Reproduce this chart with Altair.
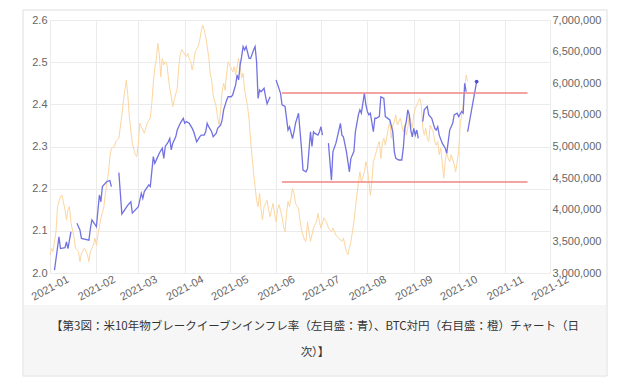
import altair as alt
import pandas as pd

# ---- Breakeven inflation (left axis); None marks a break in the line ----
blue_dates = [
    "2021-01-04", "2021-01-07", "2021-01-08", "2021-01-11", "2021-01-12", "2021-01-13", "2021-01-15",
    "2021-01-18",
    "2021-01-19", "2021-01-21", "2021-01-22", "2021-01-27", "2021-01-28", "2021-01-29", "2021-02-01",
    "2021-02-03", "2021-02-04", "2021-02-05", "2021-02-08", "2021-02-10", "2021-02-11",
    "2021-02-15",
    "2021-02-16", "2021-02-18", "2021-02-22", "2021-02-24", "2021-02-25", "2021-03-01", "2021-03-03",
    "2021-03-04", "2021-03-05", "2021-03-08", "2021-03-09", "2021-03-11", "2021-03-12", "2021-03-14",
    "2021-03-15", "2021-03-17", "2021-03-18", "2021-03-19", "2021-03-21", "2021-03-22", "2021-03-23",
    "2021-03-24", "2021-03-26", "2021-03-27", "2021-03-29", "2021-03-31", "2021-04-01", "2021-04-02",
    "2021-04-04", "2021-04-06", "2021-04-07", "2021-04-08", "2021-04-09", "2021-04-11", "2021-04-12",
    "2021-04-14", "2021-04-15", "2021-04-16", "2021-04-17", "2021-04-19", "2021-04-20", "2021-04-22",
    "2021-04-23", "2021-04-25", "2021-04-26", "2021-04-27", "2021-04-29", "2021-04-30", "2021-05-02",
    "2021-05-03", "2021-05-05", "2021-05-06", "2021-05-07", "2021-05-08", "2021-05-09", "2021-05-10",
    "2021-05-11", "2021-05-12", "2021-05-14", "2021-05-15", "2021-05-17", "2021-05-18", "2021-05-19",
    "2021-05-20", "2021-05-21", "2021-05-22", "2021-05-24", "2021-05-25", "2021-05-26", "2021-05-28",
    "2021-05-31",
    "2021-06-01", "2021-06-04", "2021-06-05", "2021-06-07", "2021-06-09", "2021-06-10", "2021-06-12",
    "2021-06-13", "2021-06-14", "2021-06-16", "2021-06-18", "2021-06-19", "2021-06-21", "2021-06-22",
    "2021-06-24", "2021-06-25", "2021-06-26", "2021-06-27", "2021-06-29", "2021-06-30", "2021-07-01",
    "2021-07-02",
    "2021-07-05",
    "2021-07-06", "2021-07-08", "2021-07-09", "2021-07-11", "2021-07-13", "2021-07-14", "2021-07-15",
    "2021-07-16", "2021-07-18", "2021-07-20", "2021-07-21", "2021-07-23", "2021-07-24", "2021-07-26",
    "2021-07-27", "2021-07-28", "2021-07-29", "2021-07-30", "2021-07-31", "2021-08-01", "2021-08-02",
    "2021-08-03", "2021-08-05", "2021-08-06", "2021-08-07", "2021-08-09", "2021-08-10", "2021-08-12",
    "2021-08-13", "2021-08-16", "2021-08-18", "2021-08-19", "2021-08-20", "2021-08-22", "2021-08-24",
    "2021-08-25", "2021-08-26", "2021-08-27", "2021-08-28", "2021-08-29", "2021-08-30", "2021-08-31",
    "2021-09-01", "2021-09-02", "2021-09-03", "2021-09-04",
    "2021-09-06",
    "2021-09-07", "2021-09-08", "2021-09-10", "2021-09-11", "2021-09-13", "2021-09-15", "2021-09-16",
    "2021-09-17", "2021-09-18", "2021-09-20", "2021-09-22", "2021-09-23", "2021-09-24", "2021-09-25",
    "2021-09-27", "2021-09-28", "2021-09-30", "2021-10-01", "2021-10-03", "2021-10-04", "2021-10-05",
    "2021-10-06",
    "2021-10-07",
    "2021-10-07", "2021-10-13",
]
blue_vals = [
    2.007, 2.086, 2.058, 2.060, 2.074, 2.058, 2.098,
    None,
    2.118, 2.102, 2.082, 2.078, 2.106, 2.126, 2.110,
    2.185, 2.169, 2.205, 2.217, 2.219, 2.205,
    None,
    2.238, 2.140, 2.161, 2.169, 2.142, 2.157, 2.189,
    2.177, 2.193, 2.209, 2.205, 2.276, 2.260, 2.276,
    2.284, 2.296, 2.272, 2.300, 2.311, 2.319, 2.292,
    2.308, 2.323, 2.339, 2.355, 2.367, 2.355, 2.359,
    2.355, 2.343, 2.335, 2.323, 2.311, 2.323, 2.327,
    2.327, 2.335, 2.355, 2.347, 2.335, 2.323, 2.331,
    2.343, 2.351, 2.363, 2.387, 2.410, 2.418, 2.418,
    2.422, 2.446, 2.470, 2.458, 2.493, 2.513, 2.537,
    2.529, 2.537, 2.509, 2.509, 2.529, 2.537, 2.501,
    2.414, 2.434, 2.430, 2.438, 2.418, 2.401, 2.418,
    None,
    2.458, 2.426, 2.399, 2.395, 2.339, 2.347, 2.319,
    2.335, 2.355, 2.379, 2.296, 2.244, 2.240, 2.247,
    2.335, 2.300, 2.335, 2.331, 2.327, 2.335, 2.347,
    2.327,
    None,
    2.308, 2.220, 2.288, 2.308, 2.339, 2.355, 2.327,
    2.323, 2.288, 2.240, 2.272, 2.288, 2.335, 2.375,
    2.387, 2.379, 2.403, 2.426, 2.399, 2.383, 2.375,
    2.379, 2.335, 2.367, 2.367, 2.371, 2.418, 2.414,
    2.371, 2.363, 2.335, 2.288, 2.272, 2.268, 2.268,
    2.296, 2.343, 2.359, 2.387, 2.375, 2.339, 2.323,
    2.343, 2.327, 2.339, 2.319,
    None,
    2.359, 2.387, 2.395, 2.375, 2.367, 2.343, 2.339,
    2.347, 2.327, 2.308, 2.296, 2.284, 2.311, 2.339,
    2.355, 2.375, 2.379, 2.371, 2.383, 2.379, 2.450,
    2.430,
    None,
    2.335, 2.454,
]

# ---- BTC/JPY (right axis): days since 2021-01-01, price in yen ----
btc_days = [
    0, 1, 2, 4, 5, 7, 8, 10, 11, 12, 13, 14, 16, 17, 19, 20, 21, 23, 25, 26, 27, 29, 30, 31, 32, 33, 34,
    36, 37, 38, 39, 40, 41, 43, 44, 46, 47, 48, 49, 50, 51, 52, 53, 54, 55, 56, 57, 58, 59, 60, 61, 63,
    65, 67, 68, 69, 70, 71, 72, 73, 74, 75, 76, 77, 78, 79, 80, 81, 82, 83, 85, 86, 87, 88, 89, 91, 92,
    93, 94, 95, 96, 97, 99, 100, 101, 102, 103, 104, 105, 106, 107, 108, 109, 111, 112, 113, 114, 115,
    116, 117, 118, 119, 120, 122, 123, 124, 125, 126, 127, 128, 129, 130, 132, 133, 134, 135, 136, 137,
    138, 139, 140, 141, 142, 143, 145, 146, 147, 148, 149, 150, 151, 152, 153, 155, 156, 157, 158, 159,
    160, 161, 162, 163, 164, 166, 167, 168, 169, 170, 171, 172, 173, 174, 176, 178, 179, 180, 181, 183,
    185, 186, 188, 189, 191, 192, 194, 195, 196, 197, 198, 199, 201, 202, 203, 204, 205, 206, 207, 208,
    210, 211, 212, 213, 214, 215, 216, 218, 219, 220, 221, 222, 223, 224, 226, 227, 228, 229, 230, 231,
    232, 233, 234, 236, 237, 238, 239, 240, 241, 242, 243, 244, 246, 247, 248, 249, 250, 251, 252, 253,
    254, 256, 257, 258, 259, 260, 261, 262, 263, 264, 265, 266, 267, 268, 270, 271, 272, 273, 274, 275,
    276, 277, 278, 279,
]
btc_vals_m = [
    3.28, 3.39, 3.34, 3.65, 4.05, 4.21, 4.23, 4.00, 3.84, 4.00, 4.05, 3.79, 3.57, 3.39, 3.34, 3.18, 3.31,
    3.39, 3.29, 3.18, 3.34, 3.44, 3.55, 3.44, 3.60, 3.73, 3.87,
    4.05, 4.26, 4.42, 4.58, 4.84, 4.97, 5.00, 5.08, 5.13, 5.31, 5.50, 5.71, 5.89, 6.05, 5.81, 5.47, 5.26,
    5.05, 4.95, 4.87, 4.84, 5.05, 5.37, 5.31, 5.21,
    5.37, 5.45, 5.68, 6.00, 6.24, 6.37, 6.63, 6.47, 6.10, 6.39, 6.29, 6.34, 6.32, 6.10, 5.92, 5.79, 5.63,
    5.74, 5.92, 6.26, 6.45, 6.53, 6.50, 6.42, 6.47,
    6.39, 6.34, 6.21, 6.34, 6.50, 6.58, 6.68, 6.82, 6.92, 6.84, 6.74, 6.58, 6.42, 6.16, 6.05, 5.81, 5.63,
    5.45, 5.34, 5.58, 5.87,
    6.00, 5.89, 6.16, 6.34, 6.29, 6.18, 6.26, 6.13, 6.26, 6.39, 6.26, 6.08, 6.16, 5.89, 5.63, 5.42, 5.10,
    4.84, 4.58, 4.37,
    4.15, 4.05, 4.26, 4.00, 3.84, 4.05, 4.15, 4.00, 3.89, 4.00, 4.10, 3.94, 3.81, 4.00, 4.08, 3.89, 3.73,
    3.65, 3.94, 4.13,
    4.05, 4.18, 4.34, 4.26, 4.10, 4.02, 3.84, 3.68, 3.60, 3.52, 3.50, 3.81, 3.65, 3.50, 3.71, 3.81, 3.94,
    3.81, 3.71, 3.87,
    3.79, 3.71, 3.65, 3.71, 3.60, 3.57, 3.52, 3.50, 3.55, 3.44, 3.34, 3.29, 3.50, 3.65, 3.81, 4.02, 4.23,
    4.42, 4.60, 4.44,
    4.60, 4.76, 4.66, 4.44, 4.23, 4.44, 4.76, 4.92, 5.02, 5.08, 4.81, 5.05, 5.13, 5.02, 5.29, 5.39, 5.13,
    5.34, 5.39, 5.50,
    5.34, 5.39, 5.45, 5.23, 5.34, 5.18, 5.29, 5.50, 5.39, 5.29, 5.50, 5.60, 5.71, 5.76, 5.66, 5.29, 5.18,
    5.29, 5.13, 5.08,
    5.34, 5.23, 5.08, 5.02, 5.08, 4.87, 4.97, 4.76, 4.50, 4.76, 4.92, 4.81, 4.76, 4.87, 4.71, 4.60, 4.76,
    4.92, 5.34, 5.50,
    5.66, 5.92, 6.13, 6.03,
]

# ---- Horizontal range lines (left axis) ----
band_levels = [2.427, 2.216]
band_start = "2021-06-05"
band_end = "2021-11-16"

# ---- Axes ----
x_months = list(range(1, 13))
left_ticks = [2.0, 2.1, 2.2, 2.3, 2.4, 2.5, 2.6]
right_ticks = [3000000, 3500000, 4000000, 4500000, 5000000, 5500000, 6000000, 6500000, 7000000]
caption_lines = [
    "【第3図：米10年物ブレークイーブンインフレ率（左目盛：青）、BTC対円（右目盛：橙）チャート（日",
    "次）】",
]

# ---- Tables ----
blue_df = pd.DataFrame({"date": blue_dates, "bei": blue_vals})
blue_df["seg"] = blue_df["bei"].isna().cumsum()
blue_df = blue_df.dropna().reset_index(drop=True)
last_df = blue_df.tail(1)

btc_df = pd.DataFrame({
    "date": (pd.Timestamp("2021-01-01") + pd.to_timedelta(btc_days, unit="D")).strftime("%Y-%m-%d"),
    "btc": [v * 1_000_000 for v in btc_vals_m],
})
band_df = pd.DataFrame({"start": band_start, "end": band_end, "level": band_levels})
one = pd.DataFrame({"k": [0]})

x_axis = alt.Axis(
    values=[alt.DateTime(year=2021, month=m, date=1, utc=True) for m in x_months],
    labelExpr="utcFormat(datum.value, '%Y-%m')", labelAngle=-28, labelAlign="center",
    labelBaseline="middle", labelPadding=15, labelFlush=False, labelOverlap=False, grid=True, title=None,
)
x_scale = alt.Scale(
    type="utc",
    domain=[alt.DateTime(year=2021, month=1, date=1, utc=True),
            alt.DateTime(year=2021, month=12, date=1, utc=True)],
)
left_scale = alt.Scale(domain=[2.0, 2.6], nice=False, zero=False)
left_axis = alt.Axis(values=left_ticks, labelExpr="format(datum.value, '.1f')", orient="left",
                     grid=True, labelPadding=3, title=None)
right_scale = alt.Scale(domain=[3000000, 7000000], nice=False, zero=False)
right_axis = alt.Axis(values=right_ticks, labelExpr="format(datum.value, ',')", orient="right",
                      grid=False, labelPadding=2, title=None)

# ---- Decorations ----
frame = alt.Chart(one).mark_rect(fillOpacity=0, stroke="#dddddd", strokeWidth=1).encode(
    x=alt.value(-27), x2=alt.value(557), y=alt.value(-10), y2=alt.value(356)
)
caption_bg = alt.Chart(one).mark_rect(fill="#f6f6f6").encode(
    x=alt.value(-26), x2=alt.value(556), y=alt.value(285), y2=alt.value(355)
)
cap1 = alt.Chart(one).mark_text(
    font="Noto Sans CJK JP", fontSize=11.5, color="#333333", align="center", baseline="middle"
).encode(x=alt.value(265), y=alt.value(307), text=alt.value(caption_lines[0]))
cap2 = alt.Chart(one).mark_text(
    font="Noto Sans CJK JP", fontSize=11.5, color="#333333", align="center", baseline="middle"
).encode(x=alt.value(265), y=alt.value(333), text=alt.value(caption_lines[1]))

# ---- Data layers ----
btc_line = alt.Chart(btc_df).mark_line(color="#fcd6a0", strokeWidth=1).encode(
    x=alt.X("date:T", scale=x_scale, axis=x_axis),
    y=alt.Y("btc:Q", scale=right_scale, axis=right_axis),
)

blue_line = alt.Chart(blue_df).mark_line(color="#7272e2", strokeWidth=1.3).encode(
    x=alt.X("date:T", scale=x_scale, axis=x_axis),
    y=alt.Y("bei:Q", scale=left_scale, axis=left_axis),
    detail="seg:N",
)
blue_end = alt.Chart(last_df).mark_point(filled=True, size=14, color="#4c4cd6", opacity=1).encode(
    x=alt.X("date:T", scale=x_scale, axis=x_axis),
    y=alt.Y("bei:Q", scale=left_scale, axis=left_axis),
)
bands = alt.Chart(band_df).mark_rule(color="#f08585", strokeWidth=1.5).encode(
    x=alt.X("start:T", scale=x_scale, axis=x_axis),
    x2="end:T",
    y=alt.Y("level:Q", scale=left_scale, axis=left_axis),
)

left_group = alt.layer(blue_line, bands, blue_end)

chart = alt.layer(
    frame, caption_bg, cap1, cap2, btc_line, left_group
).resolve_scale(y="independent").properties(
    width=500, height=253,
    autosize=alt.AutoSizeParams(type="none"),
    padding={"left": 42, "top": 12, "right": 62, "bottom": 107},
).configure_view(strokeWidth=0).configure_axis(
    domain=False, ticks=False, tickSize=0, labelFont="Liberation Sans", labelFontSize=11,
    labelColor="#666666", gridColor="#ebebeb", gridWidth=1,
)

chart.save("out.html", embed_options={"renderer": "svg", "actions": False})
